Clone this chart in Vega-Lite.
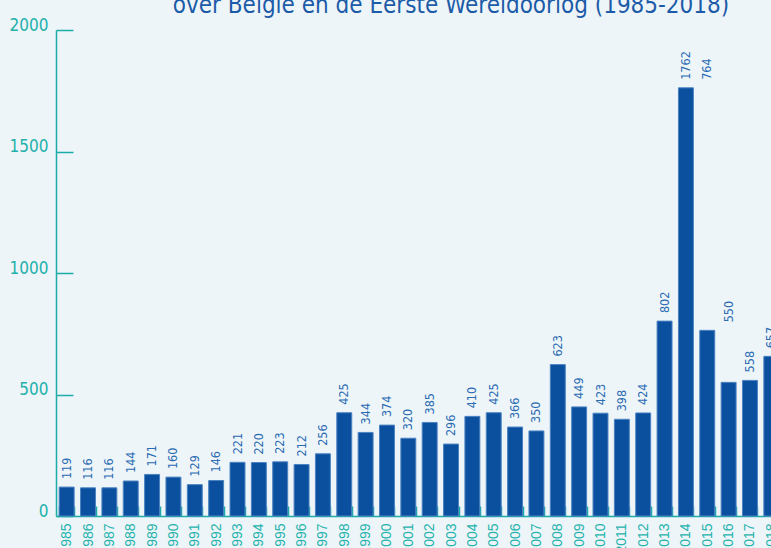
{
  "$schema": "https://vega.github.io/schema/vega-lite/v6.json",
  "autosize": {"type": "none"},
  "padding": {"left": 56, "top": 30, "right": 0, "bottom": 32},
  "width": 726,
  "height": 486,
  "background": "#EEF5F8",
  "title": {
    "text": "over België en de Eerste Wereldoorlog (1985-2018)",
    "frame": "group",
    "anchor": "middle",
    "dx": 32,
    "dy": 21,
    "baseline": "alphabetic",
    "offset": 0,
    "font": "DejaVu Sans Condensed, Roboto, sans-serif",
    "fontSize": 24,
    "fontWeight": "normal",
    "color": "#1C5BA8"
  },
  "config": {"view": {"stroke": null}, "axis": {"grid": false}},
  "data": {
    "values": [
      {"year": "1985", "n": 119}, {"year": "1986", "n": 116}, {"year": "1987", "n": 116},
      {"year": "1988", "n": 144}, {"year": "1989", "n": 171}, {"year": "1990", "n": 160},
      {"year": "1991", "n": 129}, {"year": "1992", "n": 146}, {"year": "1993", "n": 221},
      {"year": "1994", "n": 220}, {"year": "1995", "n": 223}, {"year": "1996", "n": 212},
      {"year": "1997", "n": 256}, {"year": "1998", "n": 425}, {"year": "1999", "n": 344},
      {"year": "2000", "n": 374}, {"year": "2001", "n": 320}, {"year": "2002", "n": 385},
      {"year": "2003", "n": 296}, {"year": "2004", "n": 410}, {"year": "2005", "n": 425},
      {"year": "2006", "n": 366}, {"year": "2007", "n": 350}, {"year": "2008", "n": 623},
      {"year": "2009", "n": 449}, {"year": "2010", "n": 423}, {"year": "2011", "n": 398},
      {"year": "2012", "n": 424}, {"year": "2013", "n": 802}, {"year": "2014", "n": 1762},
      {"year": "2015", "n": 764}, {"year": "2016", "n": 550}, {"year": "2017", "n": 558},
      {"year": "2018", "n": 657}
    ]
  },
  "encoding": {
    "x": {
      "field": "year",
      "type": "ordinal",
      "scale": {"paddingInner": 0.3, "paddingOuter": 0.15},
      "axis": {
        "title": null,
        "tickBand": "extent",
        "tickSize": -10,
        "tickWidth": 1.5,
        "tickColor": "#1AADA8",
        "domainColor": "#1AADA8",
        "domainWidth": 1.5,
        "labelAngle": 270,
        "labelAlign": "right",
        "labelBaseline": "middle",
        "labelPadding": 17,
        "labelFont": "Liberation Sans",
        "labelFontSize": 14,
        "labelColor": "#26B3AE"
      }
    }
  },
  "layer": [
    {
      "mark": {"type": "bar", "color": "#0A509F", "stroke": "#4C82C2", "strokeWidth": 1},
      "encoding": {
        "y": {
          "field": "n",
          "type": "quantitative",
          "scale": {"domain": [0, 2000]},
          "axis": {
            "title": null,
            "values": [0, 500, 1000, 1500, 2000],
            "format": "d",
            "tickSize": -17,
            "tickWidth": 1.5,
            "tickColor": "#1AADA8",
            "domainColor": "#1AADA8",
            "domainWidth": 1.5,
            "labelBaseline": "alphabetic",
            "labelFlush": false,
            "labelPadding": 25,
            "labelFont": "DejaVu Sans Condensed, Roboto, sans-serif",
            "labelFontSize": 17,
            "labelColor": "#22B0AB"
          }
        }
      }
    },
    {
      "transform": [
        {"calculate": "datum.year == '2015' ? 1762 : datum.year == '2016' ? 764 : datum.n", "as": "labelAt"}
      ],
      "mark": {
        "type": "text",
        "angle": 270,
        "align": "left",
        "baseline": "middle",
        "dx": 8,
        "font": "DejaVu Sans Condensed, Roboto, sans-serif",
        "fontSize": 12.5,
        "color": "#2A6BB3"
      },
      "encoding": {
        "y": {"field": "labelAt", "type": "quantitative"},
        "text": {"field": "n", "type": "quantitative"}
      }
    }
  ]
}
